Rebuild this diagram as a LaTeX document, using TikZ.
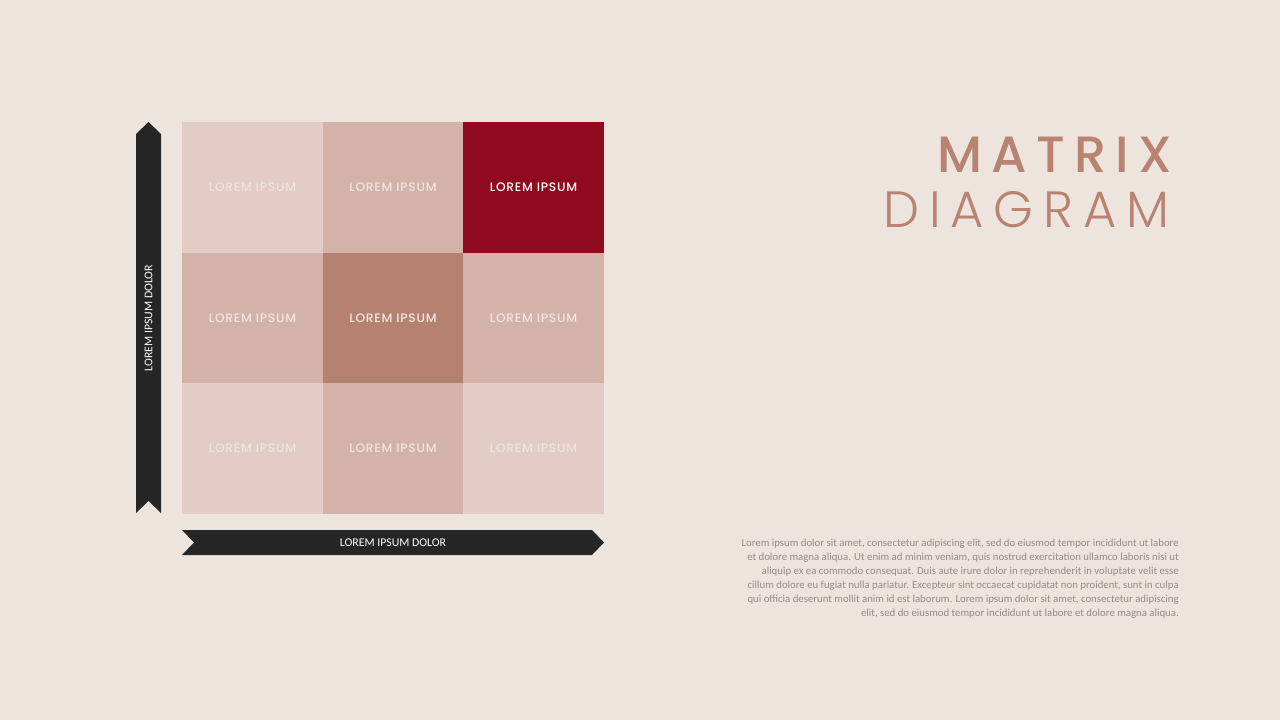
\documentclass[tikz,border=0pt]{standalone}
\usepackage{fontspec}
\newfontfamily\carlito{Carlito}
\newfontfamily\popmcell{Poppins Medium}[LetterSpace=6]
\newfontfamily\popmsp{Poppins Medium}[LetterSpace=18]
\newfontfamily\poplsp{Poppins Light}[LetterSpace=19.5]
\definecolor{bg}{HTML}{EDE4DE}
\definecolor{clight}{HTML}{E2CCC5}
\definecolor{cmed}{HTML}{D3B3A9}
\definecolor{cdark}{HTML}{B58272}
\definecolor{cred}{HTML}{8F0A1E}
\definecolor{axisdark}{HTML}{262626}
\definecolor{titlec}{HTML}{B98371}
\definecolor{paragc}{HTML}{958B87}
\tikzset{
  cell/.style={minimum width=141pt, minimum height=130.5pt, inner sep=0pt, outer sep=0pt, font=\popmcell\fontsize{12.3}{13}\selectfont},
  axislabel/.style={text=white, font=\carlito\fontsize{11.8}{13}\selectfont, inner sep=0pt},
}
\begin{document}
\begin{tikzpicture}[x=1pt,y=-1pt]
\useasboundingbox[fill=bg] (0,0) rectangle (1280,720);
% cells
\node[cell, fill=clight, text=clight!55!white] (c11) at (252.5,187.25) {LOREM IPSUM};
\node[cell, fill=cmed, text=cmed!35!white] (c12) at (393,187.25) {LOREM IPSUM};
\node[cell, fill=cred, text=white] (c13) at (533.5,187.25) {LOREM IPSUM};
\node[cell, fill=cmed, text=cmed!35!white] (c21) at (252.5,317.75) {LOREM IPSUM};
\node[cell, fill=cdark, text=cdark!20!white] (c22) at (393,317.75) {LOREM IPSUM};
\node[cell, fill=cmed, text=cmed!35!white] (c23) at (533.5,317.75) {LOREM IPSUM};
\node[cell, fill=clight, text=clight!55!white] (c31) at (252.5,448.25) {LOREM IPSUM};
\node[cell, fill=cmed, text=cmed!35!white] (c32) at (393,448.25) {LOREM IPSUM};
\node[cell, fill=clight, text=clight!55!white] (c33) at (533.5,448.25) {LOREM IPSUM};
% vertical axis
\fill[axisdark] (136,134) -- (148.5,122) -- (161,134) -- (161,513) -- (148.5,501) -- (136,513) -- cycle;
\node[axislabel, rotate=90] (vlab) at (148.5,318) {LOREM IPSUM DOLOR};
% horizontal axis
\fill[axisdark] (182,530) -- (592,530) -- (604,542.5) -- (592,555) -- (182,555) -- (194,542.5) -- cycle;
\node[axislabel] (hlab) at (393,542.5) {LOREM IPSUM DOLOR};
% title
\node[anchor=base east, inner sep=0pt, text=titlec, font=\popmsp\fontsize{51}{51}\selectfont] (t1) at (1172,172) {MATRIX};
\node[anchor=base east, inner sep=0pt, text=titlec, font=\poplsp\fontsize{51}{51}\selectfont] (t2) at (1170,227) {DIAGRAM};
% paragraph
\node[anchor=north east, inner sep=0pt, align=right, text=paragc, font=\carlito\fontsize{10.78}{14}\selectfont] (para) at (1179,538.5) {Lorem ipsum dolor sit amet, consectetur adipiscing elit, sed do eiusmod tempor incididunt ut labore\\
et dolore magna aliqua. Ut enim ad minim veniam, quis nostrud exercitation ullamco laboris nisi ut\\
aliquip ex ea commodo consequat. Duis aute irure dolor in reprehenderit in voluptate velit esse\\
cillum dolore eu fugiat nulla pariatur. Excepteur sint occaecat cupidatat non proident, sunt in culpa\\
qui officia deserunt mollit anim id est laborum. Lorem ipsum dolor sit amet, consectetur adipiscing\\
elit, sed do eiusmod tempor incididunt ut labore et dolore magna aliqua.};
\end{tikzpicture}
\end{document}
